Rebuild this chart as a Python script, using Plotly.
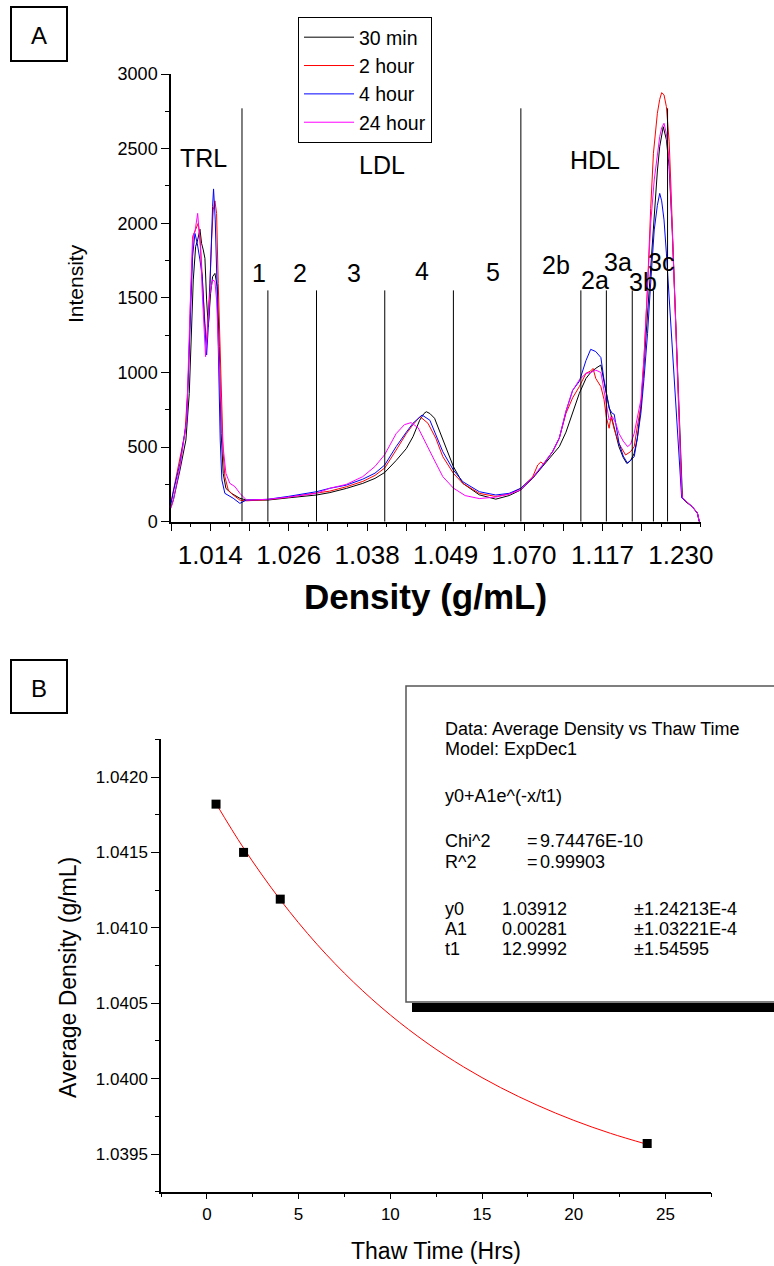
import plotly.graph_objects as go

W, H = 774, 1266
FONT = "Liberation Sans, Arial, sans-serif"

def px(x):
    return x / W

def py(y):
    return 1 - y / H

# ---------------- Panel A data ----------------
density_ticks = ["1.014", "1.026", "1.038", "1.049", "1.070", "1.117", "1.230"]
series_names = ["30 min", "2 hour", "4 hour", "24 hour"]
series_colors = ["#000000", "#FF0000", "#0000FF", "#FF00FF"]

x_30min = [0, 0.06, 0.229, 0.38, 0.466, 0.526, 0.568, 0.628, 0.68, 0.738, 0.78, 0.823, 0.865, 0.908, 0.95,
           1.01, 1.06, 1.12, 1.18, 1.23, 1.28, 1.331, 1.40, 1.54, 1.756, 1.925, 2.47, 3.0, 3.71, 4.05, 4.47,
           4.89, 5.2, 5.45, 5.74, 6.0, 6.17, 6.34, 6.45, 6.51, 6.6, 6.72, 6.93, 7.2, 7.44, 7.86, 8.28, 8.62,
           8.92, 9.22, 9.47, 9.73, 9.90, 10.07, 10.24, 10.41, 10.58, 10.70, 10.83, 10.96, 11.04, 11.08, 11.17,
           11.25, 11.34, 11.42, 11.53, 11.62, 11.72, 11.81, 11.89, 11.98, 12.06, 12.15, 12.23, 12.32, 12.40,
           12.46, 12.51, 12.55, 12.63, 12.70, 12.78, 12.87, 12.95, 13.02, 13.04, 13.12, 13.29, 13.42, 13.47]
y_30min = [100, 145, 346, 547, 860, 1285, 1620, 1843, 1888, 1960, 1865, 1821, 1765, 1486, 1307,
           1530, 1642, 1664, 1575, 1173, 592, 324, 223, 190, 157, 145, 145, 160, 179, 195, 223,
           257, 290, 330, 410, 490, 570, 680, 725, 737, 725, 693, 548, 369, 257, 180, 151, 175,
           213, 290, 369, 450, 503, 600, 726, 860, 960, 1000, 1028, 1050, 940, 883, 770,
           682, 590, 503, 430, 391, 410, 458, 560, 771, 1050, 1396, 1750, 2067, 2350,
           2513, 2600, 2647, 2560, 2379, 1950, 1350, 700, 250, 157, 134, 100, 56, 0]

x_2hour = [0, 0.06, 0.229, 0.356, 0.441, 0.50, 0.568, 0.653, 0.695, 0.738, 0.78, 0.823, 0.865, 0.908, 0.95,
           0.992, 1.035, 1.077, 1.12, 1.162, 1.204, 1.247, 1.289, 1.331, 1.374, 1.46, 1.586, 1.756, 1.925,
           2.47, 3.0, 3.71, 4.05, 4.47, 4.89, 5.2, 5.45, 5.74, 6.0, 6.17, 6.35, 6.55, 6.75, 6.93, 7.2, 7.44,
           7.86, 8.28, 8.62, 8.92, 9.22, 9.35, 9.43, 9.50, 9.73, 9.90, 10.07, 10.24, 10.41, 10.58, 10.70,
           10.76, 10.83, 10.96, 11.04, 11.10, 11.17, 11.22, 11.30, 11.42, 11.59, 11.72, 11.81, 11.89, 11.98,
           12.06, 12.15, 12.23, 12.30, 12.40, 12.46, 12.51, 12.57, 12.63, 12.70, 12.74, 12.80, 12.87, 12.95,
           13.02, 13.04, 13.12, 13.29, 13.42, 13.47]
y_2hour = [130, 212, 436, 592, 950, 1508, 1921, 1977, 2000, 1910, 1709, 1508, 1329, 1195, 1374,
           1597, 1888, 2089, 2150, 2066, 1597, 1151, 771, 458, 302, 212, 179, 145, 140,
           148, 165, 190, 205, 234, 270, 310, 360, 480, 590, 650, 704, 660, 560, 436, 324, 257,
           190, 169, 185, 224, 300, 380, 400, 385, 470, 560, 726, 830, 905, 994, 1010,
           1027, 960, 905, 820, 700, 626, 704, 620, 525, 447, 470, 503, 640, 771,
           1100, 1575, 2100, 2469, 2737, 2830, 2875, 2860, 2781, 2550, 2290, 1800, 1300, 700,
           200, 160, 140, 100, 60, 0]

x_4hour = [0, 0.06, 0.229, 0.40, 0.483, 0.55, 0.611, 0.67, 0.738, 0.797, 0.848, 0.908, 0.967, 1.018, 1.06,
           1.085, 1.128, 1.17, 1.21, 1.255, 1.297, 1.374, 1.586, 1.756, 1.925, 2.47, 3.0, 3.71, 4.05, 4.47,
           4.89, 5.2, 5.45, 5.74, 6.0, 6.17, 6.40, 6.6, 6.93, 7.2, 7.44, 7.86, 8.28, 8.62, 8.92, 9.22, 9.47,
           9.73, 9.90, 10.07, 10.24, 10.41, 10.58, 10.70, 10.83, 10.96, 11.04, 11.17, 11.25, 11.30, 11.42,
           11.53, 11.64, 11.72, 11.81, 11.89, 11.98, 12.06, 12.15, 12.23, 12.32, 12.40, 12.46, 12.51, 12.57,
           12.63, 12.70, 12.78, 12.87, 12.95, 13.02, 13.12, 13.29, 13.42, 13.47]
y_4hour = [120, 201, 391, 681, 1285, 1776, 1932, 1865, 1754, 1642, 1374, 1117, 1374, 1821, 2111,
           2230, 2022, 1620, 1039, 547, 280, 190, 157, 123, 145, 150, 170, 201, 224, 245,
           285, 325, 380, 503, 600, 660, 715, 680, 469, 346, 268, 201, 179, 190, 224, 295, 375,
           470, 560, 740, 880, 940, 1080, 1155, 1140, 1100, 950, 760, 726, 720, 530,
           440, 391, 410, 436, 560, 726, 960, 1262, 1600, 1955, 2120, 2200, 2150, 2022,
           1800, 1500, 1150, 800, 450, 160, 140, 100, 60, 0]

x_24hour = [0, 0.06, 0.229, 0.40, 0.483, 0.55, 0.611, 0.653, 0.68, 0.72, 0.755, 0.797, 0.84, 0.882, 0.925,
            0.992, 1.06, 1.12, 1.162, 1.23, 1.31, 1.40, 1.50, 1.63, 1.756, 1.925, 2.47, 3.0, 3.71, 4.05,
            4.47, 4.89, 5.2, 5.45, 5.74, 5.95, 6.12, 6.3, 6.5, 6.7, 6.93, 7.2, 7.5, 7.86, 8.28, 8.62, 8.92,
            9.22, 9.47, 9.73, 9.90, 10.07, 10.24, 10.41, 10.58, 10.70, 10.83, 10.96, 11.04, 11.17, 11.25,
            11.34, 11.42, 11.53, 11.64, 11.72, 11.81, 11.89, 11.98, 12.06, 12.15, 12.23, 12.32, 12.40, 12.46,
            12.51, 12.57, 12.63, 12.70, 12.78, 12.87, 12.95, 13.02, 13.04, 13.12, 13.29, 13.42, 13.47]
y_24hour = [90, 145, 369, 681, 1396, 1910, 1943, 2022, 2066, 1932, 1821, 1530, 1262, 1106, 1262,
            1530, 1620, 1610, 1486, 1039, 547, 324, 257, 235, 190, 145, 150, 165, 190, 224,
            250, 302, 370, 450, 590, 650, 664, 630, 530, 420, 302, 225, 175, 155, 165, 185, 213,
            295, 380, 470, 560, 740, 880, 950, 994, 1000, 1016, 1000, 880, 681, 704,
            660, 592, 540, 503, 520, 592, 700, 816, 1100, 1575, 2000, 2290, 2450, 2580,
            2640, 2670, 2600, 2420, 1950, 1350, 750, 200, 160, 140, 100, 60, 0]

# fraction boundaries (scan position) and their heights (intensity)
boundary_pos = [1.81, 2.47, 3.71, 5.45, 7.20, 8.92, 10.45, 11.10, 11.76, 12.30, 12.66]
boundary_top = [2770, 1550, 1550, 1550, 1550, 2770, 1550, 1550, 1550, 1550, 2770]

region_labels = ["TRL", "LDL", "HDL", "1", "2", "3", "4", "5", "2b", "2a", "3a", "3b", "3c"]
region_x = [0.84, 5.37, 10.81, 2.24, 3.28, 4.66, 6.41, 8.22, 9.82, 10.81, 11.40, 12.04, 12.49]
region_y = [2437, 2390, 2423, 1667, 1667, 1667, 1680, 1673, 1720, 1620, 1740, 1606, 1740]

# ---------------- Panel B data ----------------
thaw_time = [0.5, 2, 4, 24]
avg_density = [1.04182, 1.04150, 1.04119, 1.03957]
fit_time = [0.5, 2, 4, 6, 8, 10, 12, 14, 16, 18, 20, 22, 24]
fit_density = [1.041824, 1.041529, 1.041186, 1.040891, 1.040639, 1.040422, 1.040236,
               1.040077, 1.039941, 1.039824, 1.039723, 1.039637, 1.039564]

fig = go.Figure()

xs = [x_30min, x_2hour, x_4hour, x_24hour]
ys = [y_30min, y_2hour, y_4hour, y_24hour]
for name, col, xv, yv in zip(series_names, series_colors, xs, ys):
    fig.add_trace(go.Scatter(x=xv, y=yv, mode="lines", name=name,
                             line=dict(color=col, width=1), xaxis="x", yaxis="y"))

fig.add_trace(go.Scatter(x=fit_time, y=fit_density, mode="lines", line=dict(color="#FF0000", width=1),
                         line_shape="spline", showlegend=False, xaxis="x2", yaxis="y2"))
fig.add_trace(go.Scatter(x=thaw_time, y=avg_density, mode="markers",
                         marker=dict(symbol="square", size=9, color="black"),
                         showlegend=False, xaxis="x2", yaxis="y2"))

shapes = []
for p, t in zip(boundary_pos, boundary_top):
    shapes.append(dict(type="line", xref="x", yref="y", x0=p, x1=p, y0=0, y1=t,
                       line=dict(color="black", width=1)))

# panel label boxes
for (x0, y0, x1, y1) in [(11, 7, 67, 61), (11, 660, 67, 713)]:
    shapes.append(dict(type="rect", xref="paper", yref="paper", x0=px(x0), x1=px(x1), y0=py(y1), y1=py(y0),
                       line=dict(color="black", width=2), fillcolor="white", layer="below"))

# fit info box with shadow
shapes.append(dict(type="rect", xref="paper", yref="paper", x0=px(412), x1=px(790), y0=py(1012), y1=py(1003),
                   line=dict(width=0), fillcolor="black"))
shapes.append(dict(type="rect", xref="paper", yref="paper", x0=px(406), x1=px(790), y0=py(1002), y1=py(686),
                   line=dict(color="#555555", width=1.5), fillcolor="white"))

annotations = []
for lab, xv, yv in zip(region_labels, region_x, region_y):
    annotations.append(dict(text=lab, x=xv, y=yv, xref="x", yref="y", showarrow=False,
                            font=dict(family=FONT, size=25, color="black"),
                            xanchor="center", yanchor="middle"))

def ann(text, x, y, size, xanchor="center", angle=0, bold=False):
    t = f"<b>{text}</b>" if bold else text
    annotations.append(dict(text=t, x=px(x), y=py(y), xref="paper", yref="paper", showarrow=False,
                            font=dict(family=FONT, size=size, color="black"),
                            xanchor=xanchor, yanchor="middle", textangle=angle))

ann("A", 39, 36, 24)
ann("B", 39, 688, 24)
ann("Intensity", 75, 284, 21, angle=-90)
ann("Density (g/mL)", 425, 597, 35, bold=True)
ann("Average Density (g/mL)", 68, 978, 23, angle=-90)
ann("Thaw Time (Hrs)", 436, 1251, 23)

bx = 442.7
FS = 18
ann("Data: Average Density vs Thaw Time", bx, 729, FS, xanchor="left")
ann("Model: ExpDec1", bx, 749, FS, xanchor="left")
ann("y0+A1e^(-x/t1)", bx, 796, FS, xanchor="left")
ann("Chi^2", bx, 841, FS, xanchor="left")
ann("=", 525, 841, FS, xanchor="left")
ann("9.74476E-10", 538, 841, FS, xanchor="left")
ann("R^2", bx, 862, FS, xanchor="left")
ann("=", 525, 862, FS, xanchor="left")
ann("0.99903", 538, 862, FS, xanchor="left")
param_rows = [("y0", "1.03912", "±1.24213E-4", 909), ("A1", "0.00281", "±1.03221E-4", 929),
              ("t1", "12.9992", "±1.54595", 949)]
for a, b, c, yy in param_rows:
    ann(a, bx, yy, FS, xanchor="left")
    ann(b, 500, yy, FS, xanchor="left")
    ann(c, 631.7, yy, FS, xanchor="left")

tick_vals_a = list(range(14))
tick_text_a = ["" for _ in tick_vals_a]
for i, lab in enumerate(density_ticks):
    tick_text_a[2 * i + 1] = lab

axis_common = dict(showgrid=False, zeroline=False, showline=True, linecolor="black", linewidth=1.5,
                   ticks="outside", tickcolor="black", tickwidth=1.2, automargin=False)

fig.update_layout(
    template="none",
    width=W, height=H, margin=dict(l=0, r=0, t=0, b=0, pad=0, autoexpand=False),
    paper_bgcolor="white", plot_bgcolor="white",
    font=dict(family=FONT, color="black"),
    xaxis=dict(domain=[px(171), px(700.5)], range=[0, 13.5], anchor="y",
               tickmode="array", tickvals=tick_vals_a, ticktext=tick_text_a, ticklen=8,
               tickfont=dict(size=26), ticklabelstandoff=1,
               minor=dict(tickmode="linear", tick0=0, dtick=0.5, ticklen=4, ticks="outside",
                          tickcolor="black", tickwidth=1.2, showgrid=False),
               **axis_common),
    yaxis=dict(domain=[py(521.7), py(74)], range=[0, 3000], anchor="x",
               tickmode="linear", tick0=0, dtick=500, ticklen=8, tickfont=dict(size=18),
               minor=dict(tickmode="linear", tick0=0, dtick=250, ticklen=4, ticks="outside",
                          tickcolor="black", tickwidth=1.2, showgrid=False),
               **axis_common),
    xaxis2=dict(domain=[px(161), px(711.4)], range=[-2.5, 27.5], anchor="y2",
                tickmode="linear", tick0=0, dtick=5, ticklen=6, tickfont=dict(size=17),
                minor=dict(tickmode="linear", tick0=0, dtick=2.5, ticklen=4, ticks="outside",
                           tickcolor="black", tickwidth=1.2, showgrid=False),
                **axis_common),
    yaxis2=dict(domain=[py(1191.7), py(739.3)], range=[1.03925, 1.04225], anchor="x2",
                tickmode="linear", tick0=1.0395, dtick=0.0005, tickformat=".4f", ticklen=8,
                tickfont=dict(size=17),
                minor=dict(tickmode="linear", tick0=1.0395, dtick=0.00025, ticklen=4, ticks="outside",
                           tickcolor="black", tickwidth=1.2, showgrid=False),
                **axis_common),
    legend=dict(x=px(298), y=py(17), xanchor="left", yanchor="top",
                bordercolor="black", borderwidth=1, bgcolor="white",
                font=dict(family=FONT, size=19.5, color="black"), itemwidth=50, tracegroupgap=0),
    shapes=shapes,
    annotations=annotations,
    showlegend=True,
)

fig.write_html("out.html")
